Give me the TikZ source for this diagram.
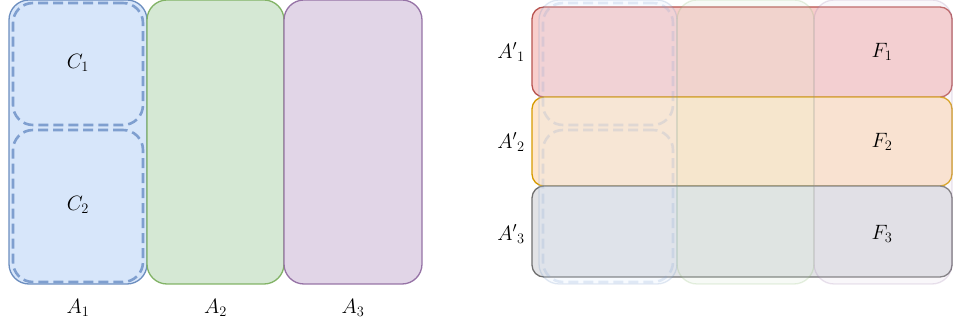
\documentclass[tikz,border=0pt]{standalone}
\usepackage{xcolor}
\definecolor{bluefill}{HTML}{D7E6FA}
\definecolor{bluedraw}{HTML}{6C8EBF}
\definecolor{dashblue}{HTML}{7F9FCF}
\definecolor{greenfill}{HTML}{D5E8D4}
\definecolor{greendraw}{HTML}{82B366}
\definecolor{purplefill}{HTML}{E1D5E7}
\definecolor{purpledraw}{HTML}{9673A6}
\definecolor{redfill}{HTML}{F8CECC}
\definecolor{reddraw}{HTML}{B85450}
\definecolor{orangefill}{HTML}{FFE6CC}
\definecolor{orangedraw}{HTML}{D79B00}
\definecolor{greyfill}{HTML}{E2E3E6}
\definecolor{greydraw}{HTML}{707070}
\begin{document}
\begin{tikzpicture}[x=1pt,y=-1pt,
  colbox/.style={rectangle,rounded corners=20pt,line width=1.3pt,minimum height=284pt,inner sep=0pt,outer sep=0pt},
  cbox/.style={rectangle,rounded corners=20pt,line width=2.6pt,draw=dashblue,dash pattern=on 10pt off 5pt,minimum width=130pt,inner sep=0pt,outer sep=0pt},
  rowbox/.style={rectangle,rounded corners=12pt,line width=1.3pt,minimum width=420pt,inner sep=0pt,outer sep=0pt},
  lbl/.style={inner sep=0pt,font=\fontsize{21}{25}\selectfont},
  faded/.style={opacity=0.2}
]
\useasboundingbox (0,0) rectangle (953,328);
% ---- left panel ----
\node[colbox,fill=bluefill,draw=bluedraw,minimum width=138pt] (A1) at (78,142) {};
\node[colbox,fill=greenfill,draw=greendraw,minimum width=137pt] (A2) at (215.5,142) {};
\node[colbox,fill=purplefill,draw=purpledraw,minimum width=138pt] (A3) at (353,142) {};
\node[cbox,minimum height=122pt] (C1) at (78,64) {};
\node[cbox,minimum height=152pt] (C2) at (78,206) {};
\node[lbl] (tC1) at (78,63) {$C_1$};
\node[lbl] (tC2) at (78,205) {$C_2$};
\node[lbl] (tA1) at (78,308) {$A_1$};
\node[lbl] (tA2) at (215.5,308) {$A_2$};
\node[lbl] (tA3) at (353,308) {$A_3$};
% ---- right panel: rows ----
\node[rowbox,fill=redfill,draw=reddraw,minimum height=90pt] (R1) at (742,52) {};
\node[rowbox,fill=orangefill,draw=orangedraw,minimum height=89pt] (R2) at (742,141.5) {};
\node[rowbox,fill=greyfill,draw=greydraw,minimum height=91pt] (R3) at (742,231.5) {};
% ---- right panel: faded columns ----
\begin{scope}[faded]
\node[colbox,fill=bluefill,draw=bluedraw,minimum width=138pt] (B1) at (608,142) {};
\node[colbox,fill=greenfill,draw=greendraw,minimum width=137pt] (B2) at (745.5,142) {};
\node[colbox,fill=purplefill,draw=purpledraw,minimum width=138pt] (B3) at (883,142) {};
\node[cbox,minimum height=122pt] (D1) at (608,64) {};
\node[cbox,minimum height=152pt] (D2) at (608,206) {};
\end{scope}
% ---- right panel labels ----
\node[lbl] (tR1) at (511,52) {$A'{}_1$};
\node[lbl] (tR2) at (511,142) {$A'{}_2$};
\node[lbl] (tR3) at (511,234) {$A'{}_3$};
\node[lbl] (tF1) at (882,52) {$F_1$};
\node[lbl] (tF2) at (882,142) {$F_2$};
\node[lbl] (tF3) at (882,234) {$F_3$};
\end{tikzpicture}
\end{document}
